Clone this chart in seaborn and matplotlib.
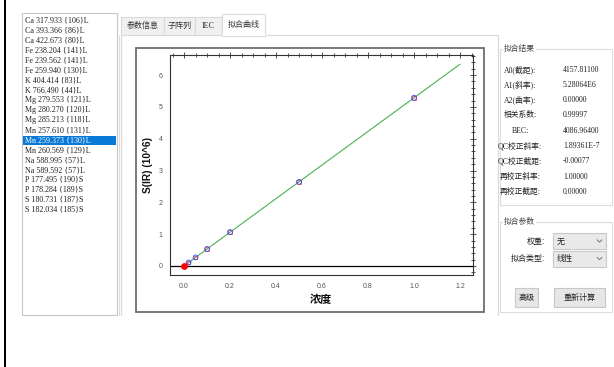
import matplotlib
matplotlib.use("Agg")
import matplotlib.pyplot as plt
import seaborn as sns
from matplotlib.patches import Rectangle
from matplotlib.ticker import MultipleLocator, FixedLocator

sns.set_theme(style="white")
plt.rcParams['font.family'] = ['Liberation Sans', 'Noto Sans CJK SC', 'DejaVu Sans']

W, H = 614, 367

# spectral line list
line_names = ["Ca 317.933 {106}L", "Ca 393.366 {86}L", "Ca 422.673 {80}L",
              "Fe 238.204 {141}L", "Fe 239.562 {141}L", "Fe 259.940 {130}L",
              "K 404.414 {83}L", "K 766.490 {44}L", "Mg 279.553 {121}L",
              "Mg 280.270 {120}L", "Mg 285.213 {118}L", "Mn 257.610 {131}L",
              "Mn 259.373 {130}L", "Mn 260.569 {129}L", "Na 588.995 {57}L",
              "Na 589.592 {57}L", "P 177.495 {190}S", "P 178.284 {189}S",
              "S 180.731 {187}S", "S 182.034 {185}S"]
selected_line = "Mn 259.373 {130}L"

tab_names = ["参数信息", "子阵列", "IEC", "拟合曲线"]
active_tab = "拟合曲线"

# calibration standards (concentration, intensity in 10^6)
std_conc = [0.02, 0.05, 0.1, 0.2, 0.5, 1.0]
std_signal = [0.110, 0.270, 0.535, 1.065, 2.645, 5.285]
blank_conc = [0.0]
blank_signal = [0.0]

# fit coefficients and range
A0 = 4157.811
A1 = 5.28064e6
fit_conc = [0.0, 1.2]
fit_signal = [(A0 + A1 * c) / 1e6 for c in fit_conc]

x_ticks = [0.0, 0.2, 0.4, 0.6, 0.8, 1.0, 1.2]
x_tick_labels = ["0.0", "0.2", "0.4", "0.6", "0.8", "1.0", "1.2"]
y_ticks = [0, 1, 2, 3, 4, 5, 6]
y_tick_labels = ["0", "1", "2", "3", "4", "5", "6"]

result_labels = ["A0(截距):", "A1(斜率):", "A2(曲率):", "相关系数:", "BEC:",
                 "QC校正斜率:", "QC校正截距:", "再校正斜率:", "再校正截距:"]
result_values = ["4157.81100", "5.28064E6", "0.00000", "0.99997", "4086.96400",
                 "1.89361E-7", "-0.00077", "1.00000", "0.00000"]

SERIF_CJK = ['Liberation Serif', 'Noto Sans CJK SC']
CJK = ['Noto Sans CJK SC', 'DejaVu Sans']

fig = plt.figure(figsize=(W / 100, H / 100), dpi=100)
fig.patch.set_facecolor("white")

ui = fig.add_axes([0, 0, 1, 1], zorder=0)
ui.set_xlim(0, W)
ui.set_ylim(H, 0)
ui.axis("off")


def box(x0, y0, x1, y1, ec="#d4d4d4", fc="none", lw=0.8, z=1):
    ui.add_patch(Rectangle((x0, y0), x1 - x0, y1 - y0, ec=ec, fc=fc, lw=lw, zorder=z))


# left black edge
ui.add_patch(Rectangle((4, 0), 2.2, H, fc="black", ec="none", zorder=2))

# line list box
box(22, 13, 117, 315, ec="#c8c8c8", fc="white")
row_h = 9.95
for i, name in enumerate(line_names):
    cy = 20.7 + i * row_h
    color = "#222222"
    if name == selected_line:
        ui.add_patch(Rectangle((23, cy - row_h / 2 + 0.5), 93, row_h - 1, fc="#0a78d7",
                               ec="none", zorder=2))
        color = "white"
    ui.text(25, cy, name, fontsize=5.8, family=['Liberation Serif'], color=color,
            va="center", ha="left", zorder=3)

# tab control
ui.plot([121, 498], [35, 35], color="#d9d9d9", lw=0.8, zorder=1)
ui.plot([119, 119], [35, 315], color="#dddddd", lw=0.8, zorder=1)
ui.plot([121, 121], [35, 315], color="#d9d9d9", lw=0.8, zorder=1)
ui.plot([498, 498], [35, 315], color="#d9d9d9", lw=0.8, zorder=1)
tab_edges = [121, 164, 195, 222, 265]
for i, name in enumerate(tab_names):
    x0, x1 = tab_edges[i], tab_edges[i + 1]
    if name == active_tab:
        box(x0, 14, x1, 35.5, ec="#d9d9d9", fc="white", z=2)
        ui.plot([x0 + 0.5, x1 - 0.5], [35, 35], color="white", lw=1.2, zorder=3)
    else:
        box(x0, 17, x1, 35, ec="#d9d9d9", fc="#f0f0f0", z=1)
    ui.text((x0 + x1) / 2, 25.5, name, fontsize=5.8, family=SERIF_CJK, color="#333333",
            ha="center", va="center", zorder=3)

# chart frame
box(136, 48, 484, 312, ec="#6e6e6e", fc="white", lw=1.3, z=1)

# result group
box(500, 49, 612, 205, ec="#dcdcdc", fc="white", z=1)
ui.text(504, 49, "拟合结果", fontsize=5.6, family=CJK, color="#444444",
        ha="left", va="center", zorder=3, bbox=dict(fc="white", ec="none", pad=0.6))
for i, (lab, val) in enumerate(zip(result_labels, result_values)):
    cy = 69.5 + i * 15.3
    ui.text(520, cy, lab, fontsize=5.6, family=SERIF_CJK, color="#222222",
            ha="center", va="center", zorder=3)
    ui.text(563, cy, val, fontsize=5.6, family=['Liberation Serif'], color="#222222",
            ha="left", va="center", zorder=3)

# fit parameter group
box(500, 222, 612, 312, ec="#dcdcdc", fc="white", z=1)
ui.text(504, 222, "拟合参数", fontsize=5.6, family=CJK, color="#444444",
        ha="left", va="center", zorder=3, bbox=dict(fc="white", ec="none", pad=0.6))
for cy, lab, val in [(241, "权重:", "无"), (258.5, "拟合类型:", "线性")]:
    ui.text(545, cy, lab, fontsize=5.8, family=CJK, color="#222222",
            ha="right", va="center", zorder=3)
    box(553, cy - 8, 606, cy + 8, ec="#c8c8c8", fc="#e9e9e9", z=2)
    ui.text(557, cy, val, fontsize=5.8, family=CJK, color="#222222",
            ha="left", va="center", zorder=3)
    ui.plot([597, 599.5, 602], [cy - 1.2, cy + 1.2, cy - 1.2], color="#666666", lw=0.6, zorder=3)
for x0, x1, lab in [(515, 538, "高级"), (554, 605, "重新计算")]:
    box(x0, 288, x1, 307, ec="#c8c8c8", fc="#e6e6e6", z=2)
    ui.text((x0 + x1) / 2, 297.5, lab, fontsize=5.8, family=CJK, color="#222222",
            ha="center", va="center", zorder=3)

# calibration plot
ax = fig.add_axes([170 / W, 1 - 275 / H, 303 / W, 220 / H], zorder=2)
ax.set_facecolor("white")

sns.lineplot(x=fit_conc, y=fit_signal, color="#4caf50", lw=0.8, ax=ax, zorder=2)
ax.axhline(0, color="black", lw=0.9, zorder=1)
sns.scatterplot(x=std_conc, y=std_signal, marker="s", s=6, facecolor="none",
                edgecolor="#ff3030", linewidth=0.5, ax=ax, zorder=3)
sns.scatterplot(x=std_conc, y=std_signal, marker="o", s=12, facecolor="none",
                edgecolor="#3344ff", linewidth=0.6, ax=ax, zorder=4)
sns.scatterplot(x=blank_conc, y=blank_signal, marker="o", s=24, color="#ff0000",
                edgecolor="#ff0000", linewidth=0, ax=ax, zorder=5)

ax.set_xlim(-0.061, 1.2565)
ax.set_ylim(-0.283, 6.63)
ax.xaxis.set_major_locator(FixedLocator(x_ticks))
ax.set_xticklabels(x_tick_labels)
ax.yaxis.set_major_locator(FixedLocator(y_ticks))
ax.set_yticklabels(y_tick_labels)
ax.xaxis.set_minor_locator(MultipleLocator(0.05))
ax.yaxis.set_minor_locator(MultipleLocator(0.2))
ax.tick_params(which="both", direction="inout", top=True, right=True, color="#333333",
               width=0.6, labelsize=5, labelcolor="#555555", pad=3)
ax.tick_params(which="major", length=5)
ax.tick_params(which="minor", length=2.5)
for s in ax.spines.values():
    s.set_color("#333333")
    s.set_linewidth(0.8)
ax.set_xlabel("")
ax.set_ylabel("")

ui.text(148, 165, "S(IR) (10^6)", fontsize=7.3, fontweight="bold", rotation=90,
        family=['Liberation Sans'], color="#111111", ha="center", va="center", zorder=3)
ui.text(321, 300, "浓度", fontsize=8, fontweight="bold", family=CJK, color="#111111",
        ha="center", va="center", zorder=3)

fig.savefig("out.png", dpi=100, facecolor="white")
